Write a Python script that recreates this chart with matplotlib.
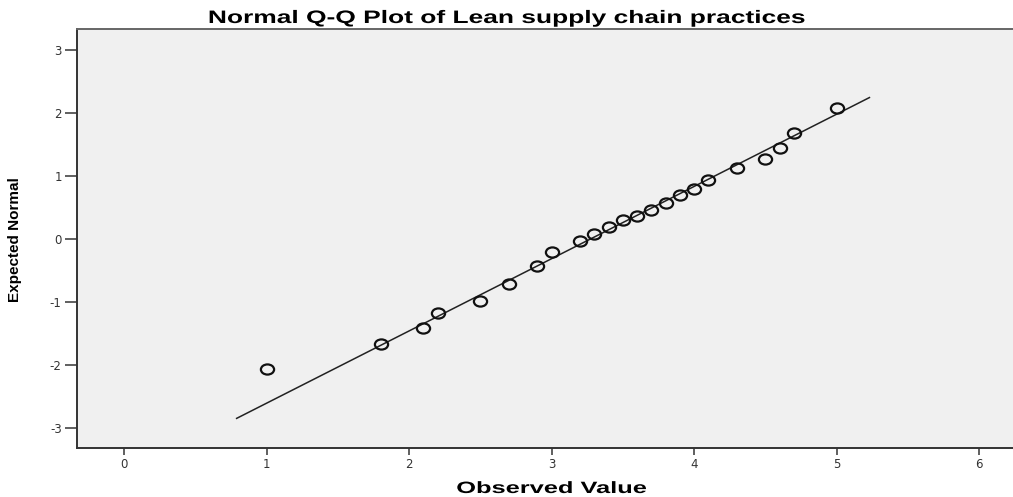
import numpy as np
import matplotlib
matplotlib.use('Agg')
import matplotlib.pyplot as plt
from matplotlib.path import Path
from matplotlib.patheffects import AbstractPathEffect
from matplotlib.transforms import Affine2D

plt.rcParams['axes.unicode_minus'] = False

observed = [1.0, 1.8, 2.1, 2.2, 2.5, 2.7, 2.9, 3.0, 3.2, 3.3, 3.4, 3.5,
            3.6, 3.7, 3.8, 3.9, 4.0, 4.1, 4.3, 4.5, 4.6, 4.7, 5.0]
expected = [-2.07, -1.67, -1.42, -1.18, -0.98, -0.72, -0.43, -0.21, -0.03,
            0.07, 0.19, 0.30, 0.37, 0.45, 0.57, 0.69, 0.79, 0.94, 1.12,
            1.27, 1.44, 1.68, 2.08]

# normal reference line: y = (x - mean) / sd
fit_mean = 3.275
fit_sd = 0.872
line_x = [0.79, 5.23]

x_ticks = [0, 1, 2, 3, 4, 5, 6]
y_ticks = [-3, -2, -1, 0, 1, 2, 3]


class HStretch(AbstractPathEffect):
    """stretch text horizontally about a display x position (the SPSS export look)"""

    def __init__(self, sx, cx):
        super().__init__()
        self.sx = sx
        self.cx = cx

    def draw_path(self, renderer, gc, tpath, affine, rgbFace=None):
        extra = Affine2D().translate(-self.cx, 0).scale(self.sx, 1).translate(self.cx, 0)
        renderer.draw_path(gc, tpath, affine + extra, rgbFace)


W, H = 1013, 497
fig = plt.figure(figsize=(W / 100, H / 100), dpi=100)
ax = fig.add_axes([77 / W, 1 - 448 / H, 0.93, (448 - 29) / H])
ax.set_facecolor('#f0f0f0')

# slightly wide open circle, like the reference
circ = Path.unit_circle()
oval = Path(circ.vertices * np.array([1.3, 1.0]), circ.codes)

line_y = [(v - fit_mean) / fit_sd for v in line_x]
ax.plot(line_x, line_y, color='#222222', linewidth=1.1, zorder=2)
ax.plot(observed, expected, linestyle='none', marker=oval, markersize=9.5,
        markerfacecolor='none', markeredgecolor='#111111',
        markeredgewidth=1.6, zorder=3)

ax.set_xlim(-0.33, 6.28)
ax.set_ylim(-3.32, 3.33)
ax.set_xticks(x_ticks)
ax.set_yticks(y_ticks)
ax.tick_params(axis='both', direction='out', width=1.2,
               color='#444444', labelsize=8.5, labelcolor='#333333')
ax.tick_params(axis='y', length=8.5, pad=2.5)
ax.tick_params(axis='x', length=5, pad=2)

for side in ['left', 'bottom']:
    ax.spines[side].set_color('#333333')
    ax.spines[side].set_linewidth(1.4)
ax.spines['top'].set_color('#666666')
ax.spines['top'].set_linewidth(1.4)
ax.spines['right'].set_visible(False)

# title and axis labels
fig.text(506 / W, 1 - 23 / H, 'Normal Q-Q Plot of Lean supply chain practices',
         ha='center', va='baseline', fontsize=13, fontweight='bold',
         family='Liberation Sans', path_effects=[HStretch(1.46, 506)])
fig.text(551 / W, 1 - 493 / H, 'Observed Value', ha='center', va='baseline',
         fontsize=11.8, fontweight='bold', family='Liberation Sans',
         path_effects=[HStretch(1.55, 551)])
fig.text(15 / W, 1 - 240 / H, 'Expected Normal', ha='center', va='center',
         rotation=90, fontsize=11, fontweight='bold',
         family=['Liberation Sans Narrow', 'Liberation Sans'])

plt.savefig('out.png', dpi=100)
plt.close()
